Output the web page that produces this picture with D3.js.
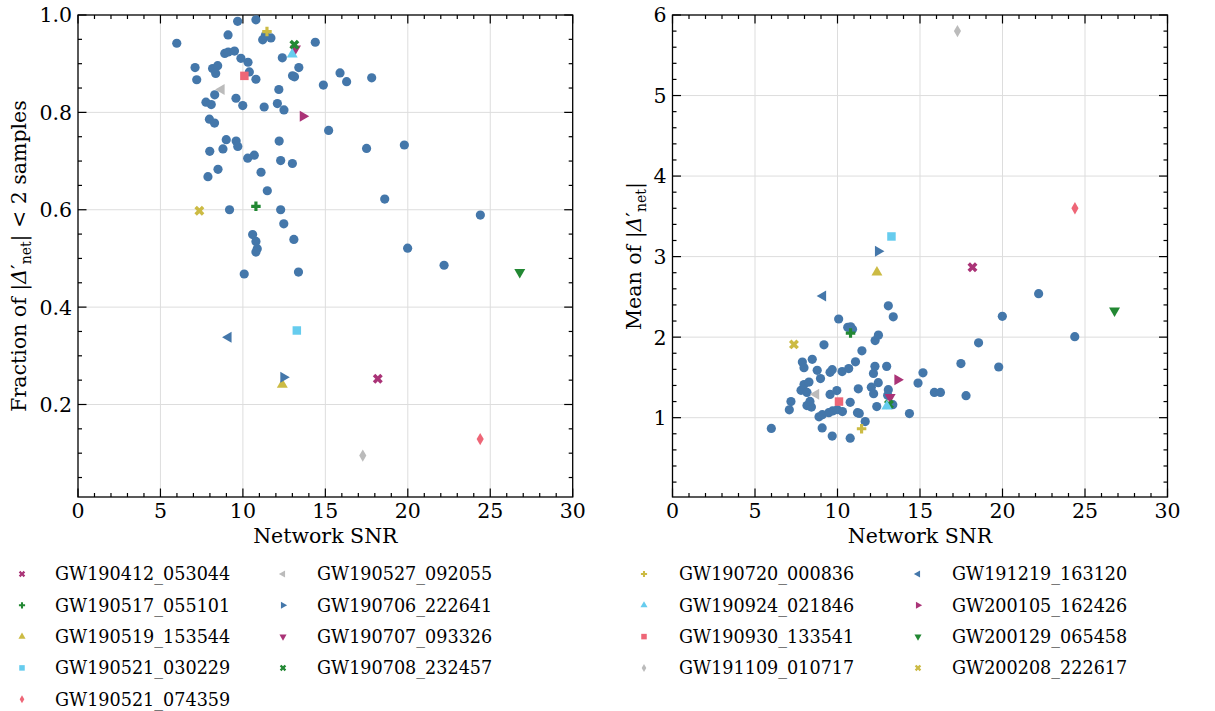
<!DOCTYPE html>
<html>
<head>
<meta charset="utf-8">
<script src="https://cdn.jsdelivr.net/npm/d3@7"></script>
<style>
  body { margin: 0; background: #fff; }
  svg text { font-family: "DejaVu Serif", serif; fill: #000; }
</style>
</head>
<body>
<svg id="chart" width="1215" height="711"></svg>
<script>
// highlighted events
const events = [
  'GW190412_053044', 'GW190517_055101', 'GW190519_153544', 'GW190521_030229',
  'GW190521_074359', 'GW190527_092055', 'GW190706_222641', 'GW190707_093326',
  'GW190708_232457', 'GW190720_000836', 'GW190924_021846', 'GW190930_133541',
  'GW191109_010717', 'GW191219_163120', 'GW200105_162426', 'GW200129_065458',
  'GW200208_222617'
];
const eventSnr = [18.18, 10.79, 12.39, 13.27, 24.39, 8.70, 12.46, 13.19, 13.12, 11.46, 12.99, 10.09, 17.27, 9.12, 13.64, 26.79, 7.36];
const eventFraction = [0.253, 0.607, 0.241, 0.352, 0.129, 0.847, 0.256, 0.931, 0.939, 0.966, 0.919, 0.875, 0.095, 0.338, 0.792, 0.472, 0.598];
const eventMean = [2.867, 2.05, 2.805, 3.25, 3.60, 1.29, 3.066, 1.256, 1.165, 0.863, 1.14, 1.20, 5.80, 2.51, 1.47, 2.33, 1.91];

// remaining events, left panel
const otherSnrL = [5.99, 9.68, 10.79, 9.10, 11.20, 11.36, 11.70, 14.39, 8.90, 9.11, 9.49, 9.88, 10.31, 12.39,
  7.10, 7.20, 8.16, 8.47, 8.35, 10.39, 10.79, 13.01, 13.13, 13.39, 15.89, 16.29, 17.81, 14.88, 12.18,
  8.29, 9.58, 7.76, 8.08, 9.99, 11.29, 12.09, 12.49, 7.97, 8.28, 15.20, 8.99, 9.59, 9.69, 12.20,
  7.99, 8.79, 17.50, 19.79, 10.29, 10.69, 12.29, 13.00, 8.49, 7.88, 11.10, 11.48, 18.60, 9.19,
  12.29, 12.48, 10.59, 10.79, 10.87, 10.79, 13.09, 19.99, 10.08, 13.37, 22.20, 24.40];
const otherFraction = [0.942, 0.987, 0.990, 0.959, 0.949, 0.958, 0.953, 0.944, 0.921, 0.924, 0.926, 0.911, 0.903, 0.912,
  0.892, 0.867, 0.890, 0.896, 0.880, 0.883, 0.868, 0.875, 0.873, 0.892, 0.881, 0.863, 0.871, 0.856, 0.847,
  0.836, 0.829, 0.821, 0.816, 0.814, 0.811, 0.818, 0.805, 0.786, 0.778, 0.763, 0.744, 0.741, 0.730, 0.741,
  0.720, 0.725, 0.726, 0.733, 0.706, 0.712, 0.701, 0.695, 0.683, 0.668, 0.677, 0.639, 0.622, 0.600,
  0.600, 0.571, 0.549, 0.535, 0.520, 0.513, 0.539, 0.521, 0.468, 0.472, 0.486, 0.589];

// remaining events, right panel
const otherSnrR = [5.99, 7.08, 7.18, 7.79, 7.87, 7.97, 7.97, 8.15, 8.27, 8.47, 8.15, 8.42, 8.33, 8.77, 8.97,
  8.88, 9.08, 9.07, 9.18, 9.47, 9.55, 9.68, 9.70, 9.68, 9.55, 9.96, 9.99, 10.07, 10.28, 10.30, 10.68,
  10.62, 10.80, 10.91, 10.77, 10.77, 11.09, 11.26, 11.21, 11.32, 11.48, 11.68, 12.05, 12.19, 12.18,
  12.27, 12.28, 12.48, 12.38, 12.47, 12.98, 13.08, 13.04, 13.08, 13.38, 13.35, 14.36, 14.88, 15.18,
  15.87, 16.24, 17.48, 17.79, 18.55, 19.77, 19.99, 22.19, 24.38];
const otherMean = [0.867, 1.097, 1.200, 1.339, 1.691, 1.621, 1.411, 1.314, 1.442, 1.724, 1.150, 1.132, 1.202, 1.588, 1.486,
  1.010, 1.037, 0.873, 1.904, 1.062, 1.563, 1.596, 1.084, 0.771, 1.289, 1.337, 1.099, 2.225, 1.573, 1.076, 1.610,
  2.122, 2.128, 2.097, 1.190, 0.745, 1.693, 1.358, 1.062, 1.053, 1.830, 0.952, 1.379, 1.298, 1.550,
  1.637, 1.957, 2.025, 1.138, 1.435, 1.637, 1.348, 1.277, 2.389, 2.252, 1.161, 1.051, 1.430, 1.557,
  1.314, 1.314, 1.672, 1.273, 1.929, 1.629, 2.258, 2.540, 2.006];

const xTicks = [0, 5, 10, 15, 20, 25, 30];
const fracTicks = [0.2, 0.4, 0.6, 0.8, 1.0];
const meanTicks = [1, 2, 3, 4, 5, 6];

// styling
const palette = ['#AA3377', '#228833', '#CCBB44', '#66CCEE', '#EE6677', '#BBBBBB', '#4477AA'];
const shapes = ['X', 'P', '^', 's', 'd', '<', '>', 'v'];
const dotColor = '#4477AA';
const gridColor = '#dddddd';

const svg = d3.select('#chart');

// marker path + rotation for a shape key
const marker = (shape, k = 1) => {
  const sym = (type, size) => d3.symbol().type(type).size(size * k * k)();
  switch (shape) {
    case 'X': return { d: sym(d3.symbolCross, 62), rot: 45 };
    case 'P': return { d: sym(d3.symbolCross, 50), rot: 0 };
    case '^': return { d: sym(d3.symbolTriangle, 52), rot: 0 };
    case 'v': return { d: sym(d3.symbolTriangle, 52), rot: 180 };
    case '<': return { d: sym(d3.symbolTriangle, 52), rot: -90 };
    case '>': return { d: sym(d3.symbolTriangle, 52), rot: 90 };
    case 's': return { d: sym(d3.symbolSquare, 72), rot: 0 };
    case 'd': return { d: sym(d3.symbolDiamond, 44), rot: 0 };
  }
};

const drawPanel = (cfg) => {
  const x = d3.scaleLinear().domain([0, 30]).range([cfg.left, cfg.right]);
  const y = d3.scaleLinear().domain(cfg.yDomain).range([cfg.bottom, cfg.top]);
  const g = svg.append('g');

  // grid
  g.append('g').selectAll('line.gx').data(xTicks.slice(1, -1)).enter().append('line')
    .attr('x1', d => x(d)).attr('x2', d => x(d)).attr('y1', cfg.top).attr('y2', cfg.bottom)
    .attr('stroke', gridColor).attr('stroke-width', 1);
  g.append('g').selectAll('line.gy').data(cfg.yTicks.filter(d => d < cfg.yDomain[1])).enter().append('line')
    .attr('y1', d => y(d)).attr('y2', d => y(d)).attr('x1', cfg.left).attr('x2', cfg.right)
    .attr('stroke', gridColor).attr('stroke-width', 1);

  // ticks, pointing in, on all four sides
  const tk = g.append('g').attr('stroke', '#000').attr('stroke-width', 1.2);
  const xMinor = d3.range(1, 30).filter(d => d % 5 !== 0);
  [[xTicks, 8.5], [xMinor, 4]].forEach(([ticks, len]) => {
    ticks.forEach(t => {
      tk.append('line').attr('x1', x(t)).attr('x2', x(t)).attr('y1', cfg.bottom).attr('y2', cfg.bottom - len);
      tk.append('line').attr('x1', x(t)).attr('x2', x(t)).attr('y1', cfg.top).attr('y2', cfg.top + len);
    });
  });
  [[cfg.yTicks, 8.5], [cfg.yMinor, 4]].forEach(([ticks, len]) => {
    ticks.forEach(t => {
      tk.append('line').attr('y1', y(t)).attr('y2', y(t)).attr('x1', cfg.left).attr('x2', cfg.left + len);
      tk.append('line').attr('y1', y(t)).attr('y2', y(t)).attr('x1', cfg.right).attr('x2', cfg.right - len);
    });
  });

  // frame
  g.append('rect').attr('x', cfg.left).attr('y', cfg.top)
    .attr('width', cfg.right - cfg.left).attr('height', cfg.bottom - cfg.top)
    .attr('fill', 'none').attr('stroke', '#000').attr('stroke-width', 1.3);

  // tick labels
  g.append('g').selectAll('text').data(xTicks).enter().append('text')
    .attr('x', d => x(d)).attr('y', cfg.bottom + 21)
    .attr('text-anchor', 'middle').attr('font-size', 20.5)
    .text(d => d);
  g.append('g').selectAll('text').data(cfg.yTicks).enter().append('text')
    .attr('x', cfg.left - 6).attr('y', d => y(d)).attr('dy', '0.36em')
    .attr('text-anchor', 'end').attr('font-size', 20.5)
    .text(cfg.yFormat);

  // axis labels
  g.append('text').attr('x', (cfg.left + cfg.right) / 2).attr('y', cfg.bottom + 46)
    .attr('text-anchor', 'middle').attr('font-size', 20.5).text('Network SNR');
  const yl = g.append('text')
    .attr('transform', `translate(${cfg.yLabelX}, ${(cfg.top + cfg.bottom) / 2}) rotate(-90)`)
    .attr('text-anchor', 'middle').attr('font-size', 20.5);
  yl.append('tspan').text(cfg.yLabel[0] + '|');
  yl.append('tspan').attr('font-style', 'italic').text('Δ');
  yl.append('tspan').text('′');
  yl.append('tspan').attr('font-size', 14).attr('dy', 5).text('net');
  yl.append('tspan').attr('dy', -5).text('|' + cfg.yLabel[1]);

  // other events
  g.append('g').selectAll('circle').data(d3.range(cfg.otherX.length)).enter().append('circle')
    .attr('cx', i => x(cfg.otherX[i])).attr('cy', i => y(cfg.otherY[i]))
    .attr('r', 4.6).attr('fill', dotColor);

  // highlighted events
  g.append('g').selectAll('path').data(events).enter().append('path')
    .each(function (d, i) {
      const m = marker(shapes[i % shapes.length]);
      d3.select(this).attr('d', m.d)
        .attr('transform', `translate(${x(eventSnr[i])},${y(cfg.eventY[i])}) rotate(${m.rot})`)
        .attr('fill', palette[i % palette.length]);
    });
};

drawPanel({
  left: 78, right: 572.7, top: 15, bottom: 497,
  yDomain: [0.01, 1.0], yTicks: fracTicks, yMinor: d3.range(1, 20).map(d => d * 0.05).filter(d => Math.round(d * 100) % 20 !== 0),
  yFormat: d3.format('.1f'), yLabelX: 26,
  yLabel: ['Fraction of ', ' < 2 samples'],
  otherX: otherSnrL, otherY: otherFraction, eventY: eventFraction,
});

drawPanel({
  left: 672.5, right: 1167.5, top: 15, bottom: 497,
  yDomain: [0.015, 6.0], yTicks: meanTicks, yMinor: d3.range(1, 30).filter(d => d % 5 !== 0).map(d => d * 0.2),
  yFormat: d => d, yLabelX: 641,
  yLabel: ['Mean of ', ''],
  otherX: otherSnrR, otherY: otherMean, eventY: eventMean,
});

// legend, four columns
const legendCols = [{ mx: 22, tx: 55 }, { mx: 283, tx: 317 }, { mx: 644, tx: 679 }, { mx: 918, tx: 952 }];
const colStart = [0, 5, 9, 13];
const legend = svg.append('g');
events.forEach((name, i) => {
  const c = colStart.filter(s => s <= i).length - 1;
  const row = i - colStart[c];
  const yy = 574 + row * 31.3;
  const m = marker(shapes[i % shapes.length], 0.65);
  legend.append('path').attr('d', m.d)
    .attr('transform', `translate(${legendCols[c].mx},${yy}) rotate(${m.rot})`)
    .attr('fill', palette[i % palette.length]);
  legend.append('text').attr('x', legendCols[c].tx).attr('y', yy).attr('dy', '0.36em')
    .attr('font-size', 17.6).text(name);
});
</script>
</body>
</html>
